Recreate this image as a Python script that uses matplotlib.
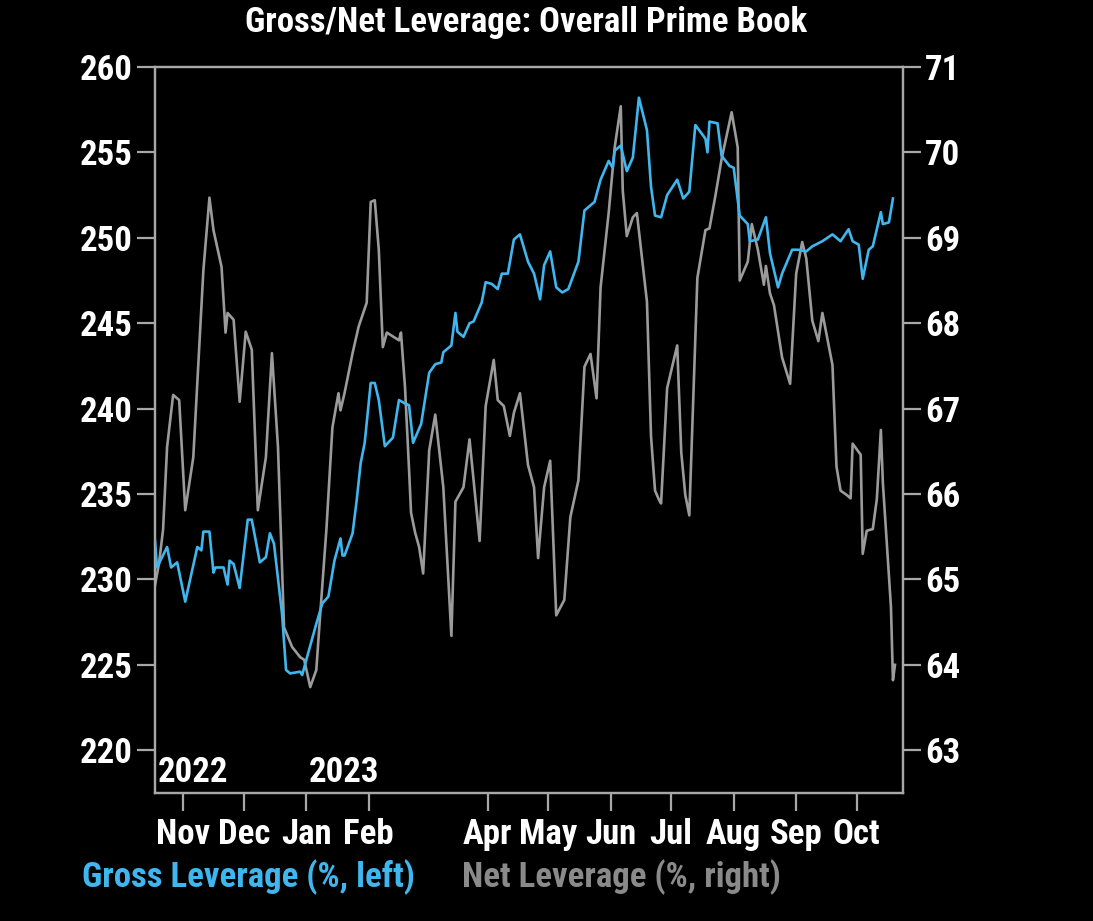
import matplotlib
matplotlib.use("Agg")
import matplotlib.pyplot as plt
import matplotlib.transforms as mtransforms
import pandas as pd

# Gross leverage (%, left axis)
gross_dates = [
    '2022-10-18', '2022-10-19', '2022-10-24', '2022-10-26', '2022-10-29',
    '2022-11-02', '2022-11-08', '2022-11-10', '2022-11-11', '2022-11-14', '2022-11-16', '2022-11-17',
    '2022-11-21', '2022-11-23', '2022-11-24', '2022-11-26', '2022-11-29',
    '2022-12-03', '2022-12-05', '2022-12-09', '2022-12-12', '2022-12-14', '2022-12-16', '2022-12-20',
    '2022-12-22', '2022-12-24', '2022-12-29', '2022-12-30',
    '2023-01-02', '2023-01-06', '2023-01-09', '2023-01-12', '2023-01-15', '2023-01-18', '2023-01-19',
    '2023-01-20', '2023-01-24', '2023-01-26', '2023-01-28', '2023-01-30',
    '2023-02-02', '2023-02-04', '2023-02-06', '2023-02-09', '2023-02-13', '2023-02-16', '2023-02-19',
    '2023-02-21', '2023-02-23', '2023-02-27',
    '2023-03-03', '2023-03-06', '2023-03-09', '2023-03-10', '2023-03-14', '2023-03-16', '2023-03-17',
    '2023-03-20', '2023-03-23', '2023-03-25', '2023-03-29', '2023-03-31',
    '2023-04-03', '2023-04-06', '2023-04-08', '2023-04-11', '2023-04-14', '2023-04-17', '2023-04-21',
    '2023-04-24', '2023-04-27', '2023-04-29',
    '2023-05-02', '2023-05-05', '2023-05-08', '2023-05-11', '2023-05-16', '2023-05-19', '2023-05-24',
    '2023-05-27', '2023-05-31',
    '2023-06-02', '2023-06-03', '2023-06-06', '2023-06-09', '2023-06-12', '2023-06-15', '2023-06-19',
    '2023-06-21', '2023-06-23', '2023-06-26', '2023-06-29',
    '2023-07-04', '2023-07-07', '2023-07-10', '2023-07-13', '2023-07-18', '2023-07-19', '2023-07-20',
    '2023-07-24', '2023-07-26', '2023-07-30',
    '2023-08-01', '2023-08-04', '2023-08-08', '2023-08-09', '2023-08-13', '2023-08-17', '2023-08-19',
    '2023-08-23', '2023-08-25', '2023-08-30',
    '2023-09-02', '2023-09-06', '2023-09-09', '2023-09-14', '2023-09-19', '2023-09-23', '2023-09-27',
    '2023-09-29',
    '2023-10-02', '2023-10-04', '2023-10-07', '2023-10-09', '2023-10-13', '2023-10-14', '2023-10-17',
    '2023-10-19',
]
gross_vals = [
    232.3, 230.7, 231.9, 230.7, 231.0,
    228.7, 231.9, 231.7, 232.8, 232.8, 230.4, 230.7,
    230.7, 229.7, 231.1, 230.9, 229.5,
    233.5, 233.5, 231.0, 231.3, 232.7, 232.1, 228.0,
    224.7, 224.5, 224.6, 224.4,
    225.7, 227.4, 228.6, 229.0, 231.1, 232.4, 231.4,
    231.4, 232.7, 234.6, 236.8, 238.0,
    241.5, 241.5, 240.5, 237.8, 238.3, 240.5, 240.3,
    240.2, 238.0, 239.1,
    242.1, 242.6, 242.7, 243.3, 243.7, 245.6, 244.5,
    244.2, 245.0, 245.1, 246.2, 247.4,
    247.3, 247.0, 247.9, 247.9, 249.9, 250.2, 248.6,
    247.9, 246.4, 248.4,
    249.2, 247.1, 246.8, 247.0, 248.6, 251.6, 252.1,
    253.4, 254.5,
    254.1, 255.1, 255.4, 253.9, 254.7, 258.2, 256.3,
    253.0, 251.3, 251.2, 252.5,
    253.4, 252.3, 252.7, 256.6, 255.8, 255.0, 256.8,
    256.7, 254.8, 254.2,
    254.1, 251.3, 250.8, 249.8, 249.9, 251.2, 249.1,
    247.1, 247.9, 249.3,
    249.3, 249.2, 249.5, 249.8, 250.2, 249.8, 250.5,
    249.8,
    249.6, 247.6, 249.3, 249.5, 251.5, 250.8, 250.9,
    252.3,
]

# Net leverage (%, right axis)
net_dates = [
    '2022-10-18', '2022-10-20', '2022-10-22', '2022-10-24', '2022-10-27', '2022-10-30',
    '2022-11-02', '2022-11-06', '2022-11-11', '2022-11-14', '2022-11-16', '2022-11-20', '2022-11-22',
    '2022-11-23', '2022-11-26', '2022-11-29',
    '2022-12-02', '2022-12-05', '2022-12-08', '2022-12-12', '2022-12-15', '2022-12-18', '2022-12-21',
    '2022-12-25', '2022-12-29', '2022-12-31',
    '2023-01-03', '2023-01-06', '2023-01-08', '2023-01-11', '2023-01-14', '2023-01-17', '2023-01-18',
    '2023-01-20', '2023-01-24', '2023-01-27', '2023-01-31',
    '2023-02-02', '2023-02-04', '2023-02-06', '2023-02-08', '2023-02-10', '2023-02-16', '2023-02-17',
    '2023-02-19', '2023-02-21', '2023-02-22', '2023-02-24', '2023-02-26', '2023-02-28',
    '2023-03-03', '2023-03-06', '2023-03-10', '2023-03-14', '2023-03-16', '2023-03-20', '2023-03-23',
    '2023-03-28', '2023-03-31',
    '2023-04-04', '2023-04-06', '2023-04-09', '2023-04-12', '2023-04-14', '2023-04-17', '2023-04-21',
    '2023-04-24', '2023-04-26', '2023-04-29',
    '2023-05-02', '2023-05-05', '2023-05-09', '2023-05-12', '2023-05-16', '2023-05-19', '2023-05-22',
    '2023-05-25', '2023-05-27', '2023-05-31',
    '2023-06-03', '2023-06-06', '2023-06-07', '2023-06-09', '2023-06-12', '2023-06-14', '2023-06-19',
    '2023-06-21', '2023-06-23', '2023-06-25', '2023-06-26', '2023-06-29',
    '2023-07-04', '2023-07-06', '2023-07-08', '2023-07-10', '2023-07-14', '2023-07-18', '2023-07-20',
    '2023-07-23', '2023-07-26', '2023-07-31',
    '2023-08-03', '2023-08-04', '2023-08-08', '2023-08-10', '2023-08-13', '2023-08-16', '2023-08-17',
    '2023-08-19', '2023-08-21', '2023-08-25', '2023-08-29',
    '2023-09-01', '2023-09-04', '2023-09-06', '2023-09-09', '2023-09-12', '2023-09-14', '2023-09-19',
    '2023-09-21', '2023-09-23', '2023-09-26', '2023-09-28', '2023-09-29',
    '2023-10-03', '2023-10-04', '2023-10-06', '2023-10-09', '2023-10-11', '2023-10-13', '2023-10-14',
    '2023-10-18', '2023-10-19', '2023-10-20',
]
net_vals = [
    64.93, 65.19, 65.58, 66.55, 67.16, 67.10,
    65.81, 66.43, 68.62, 69.47, 69.09, 68.66, 67.89,
    68.12, 68.04, 67.08,
    67.90, 67.69, 65.81, 66.43, 67.65, 66.55, 64.44,
    64.21, 64.09, 64.06,
    63.74, 63.94, 64.61, 65.58, 66.78, 67.18, 66.98,
    67.18, 67.65, 67.96, 68.24,
    69.42, 69.44, 68.86, 67.72, 67.89, 67.80, 67.89,
    67.25, 66.29, 65.78, 65.55, 65.38, 65.07,
    66.51, 66.93, 66.08, 64.34, 65.91, 66.08, 66.64,
    65.45, 67.03,
    67.57, 67.10, 67.03, 66.68, 66.95, 67.18, 66.34,
    66.08, 65.25, 66.08,
    66.39, 64.58, 64.76, 65.73, 66.16, 67.49, 67.64,
    67.12, 68.42, 69.29,
    70.06, 70.54, 69.55, 69.02, 69.24, 69.29, 68.25,
    66.68, 66.04, 65.93, 65.89, 67.24,
    67.74, 66.49, 65.99, 65.75, 68.53, 69.09, 69.11,
    69.50, 69.92, 70.47,
    70.06, 68.50, 68.72, 69.16, 68.86, 68.45, 68.67,
    68.35, 68.21, 67.60, 67.29,
    68.58, 68.95, 68.76, 68.03, 67.79, 68.12, 67.51,
    66.32, 66.04, 65.99, 65.95, 66.59,
    66.46, 65.30, 65.57, 65.59, 65.94, 66.75, 66.13,
    64.68, 63.82, 64.00,
]

# month ticks (the source chart has no March label)
tick_dates = ['2022-11-01', '2022-12-01', '2023-01-01', '2023-02-01', '2023-04-01', '2023-05-01',
              '2023-06-01', '2023-07-01', '2023-08-01', '2023-09-01', '2023-10-01']
tick_labels = ['Nov', 'Dec', 'Jan', 'Feb', 'Apr', 'May', 'Jun', 'Jul', 'Aug', 'Sep', 'Oct']
year_labels = [('2022', '2022-10-18'), ('2023', '2023-01-01')]

BLUE = '#3fb6ee'
GREY = '#9b9b9b'
AXC = '#a8a8a8'
FS = 25

plt.rcParams['font.family'] = ['Roboto Condensed', 'Liberation Sans Narrow', 'DejaVu Sans']
plt.rcParams['font.weight'] = 'bold'

fig = plt.figure(figsize=(10.93, 9.21), dpi=100, facecolor='black')
ax = fig.add_axes([0.1418, 0.139, 0.6844, 0.7883], facecolor='black')
ax2 = ax.twinx()

ax.plot(pd.to_datetime(gross_dates), gross_vals, color=BLUE, lw=1.9, zorder=3)
ax2.plot(pd.to_datetime(net_dates), net_vals, color=GREY, lw=1.9, zorder=2)
ax.set_zorder(ax2.get_zorder() + 1)
ax.patch.set_visible(False)
ax2.patch.set_facecolor('black')

ax.set_xlim(pd.Timestamp('2022-10-18'), pd.Timestamp('2023-10-24'))
ax.set_ylim(217.5, 260)
ax2.set_ylim(62.5, 71)
ax.set_yticks(range(220, 261, 5))
ax2.set_yticks(range(63, 72))
ax.set_xticks(pd.to_datetime(tick_dates))
ax.set_xticklabels(tick_labels)

for a in (ax, ax2):
    for s in a.spines.values():
        s.set_color(AXC)
        s.set_linewidth(1.6)
    a.tick_params(colors=AXC, labelcolor='white', labelsize=FS, width=1.6, length=13, pad=3)
ax.tick_params(axis='x', pad=5)

# year markers inside the plot, next to the axis start and Jan 1
trans = mtransforms.blended_transform_factory(ax.transData, ax.transAxes)
for txt, d in year_labels:
    ax.text(pd.Timestamp(d) + pd.Timedelta(days=1.5), 0.006, txt, transform=trans, color='white',
            fontsize=FS, ha='left', va='bottom')

fig.text(0.481, 0.976, 'Gross/Net Leverage: Overall Prime Book', color='white', fontsize=FS,
         ha='center', va='center')
fig.text(0.075, 0.048, 'Gross Leverage (%, left)', color=BLUE, fontsize=FS, ha='left', va='center')
fig.text(0.423, 0.048, 'Net Leverage (%, right)', color='#8a8a8a', fontsize=FS, ha='left', va='center')

fig.savefig('out.png', dpi=100, facecolor='black')
